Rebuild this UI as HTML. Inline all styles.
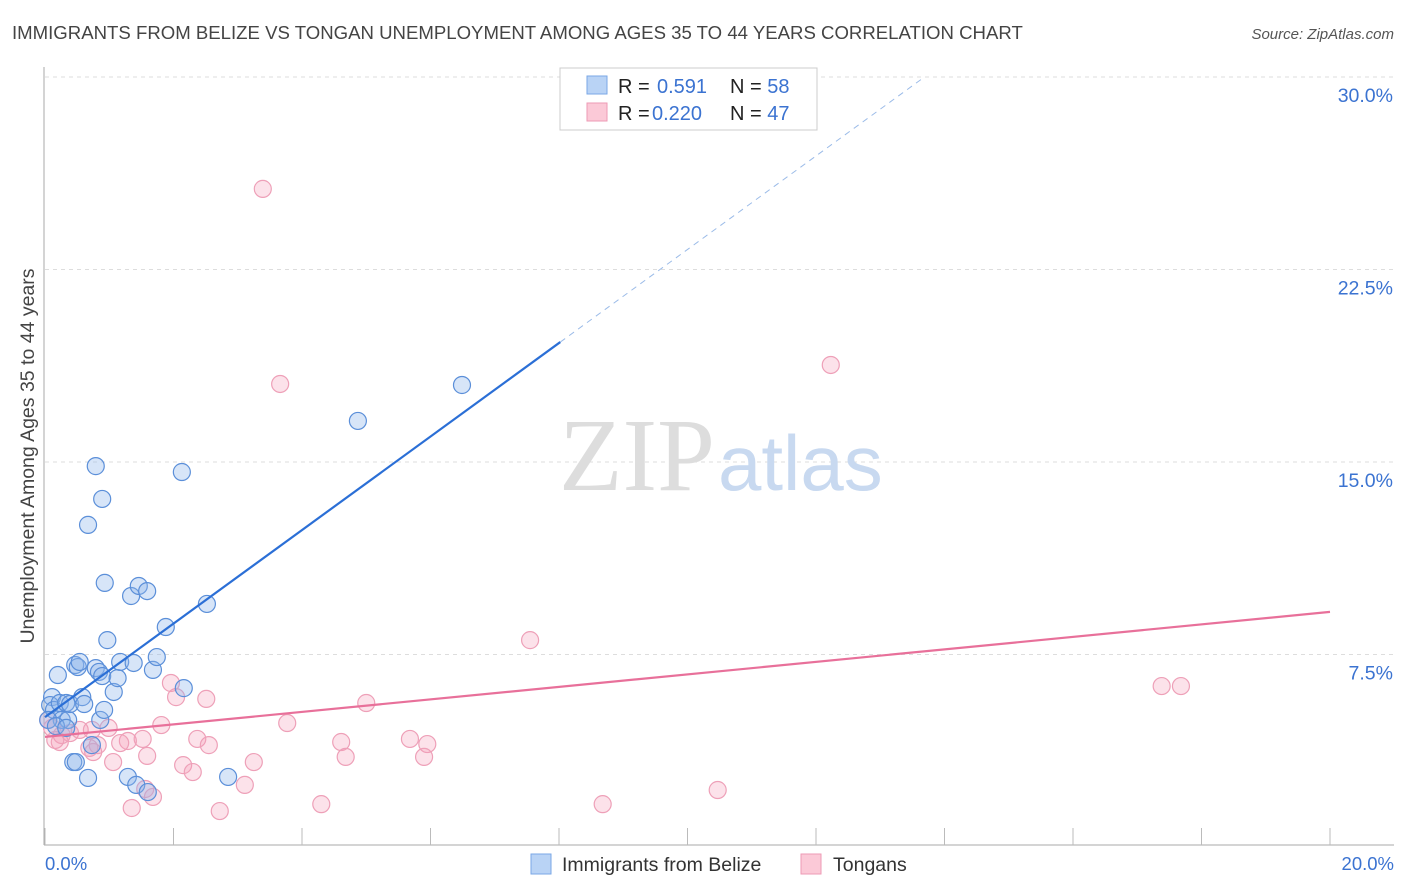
<!DOCTYPE html>
<html><head><meta charset="utf-8"><style>
body{margin:0;background:#fff;font-family:"Liberation Sans",sans-serif;}
svg{display:block}
</style></head><body>
<svg id="chart" width="1406" height="892">
<text x="12" y="39" font-size="18.6" fill="#444">IMMIGRANTS FROM BELIZE VS TONGAN UNEMPLOYMENT AMONG AGES 35 TO 44 YEARS CORRELATION CHART</text>
<text x="1394" y="39" font-size="15" fill="#555" font-style="italic" text-anchor="end">Source: ZipAtlas.com</text>
<g id="grid"></g>
<text x="715" y="490" font-size="104" fill="#ddd" font-family="Liberation Serif,serif" text-anchor="end">ZIP</text>
<text x="718" y="490" font-size="78" fill="#c8d9f0">atlas</text>
<line x1="44" y1="67" x2="44" y2="845" stroke="#aaa"/>
<line x1="44" y1="845" x2="1394" y2="845" stroke="#aaa"/>
<g id="ticks"></g>
<g id="pts"></g>
<g id="trends"></g>
<text x="34" y="456" font-size="19.5" fill="#444" text-anchor="middle" transform="rotate(-90 34 456)">Unemployment Among Ages 35 to 44 years</text>
<text x="45" y="870" font-size="18.5" fill="#3b73d1">0.0%</text>
<text x="1394" y="870" font-size="18.5" fill="#3b73d1" text-anchor="end">20.0%</text>
<g>
<rect x="560" y="68" width="257" height="62" fill="#fff" stroke="#ccc"/>
<rect x="587" y="76" width="20" height="18" fill="#b9d3f5" stroke="#7aa7e6"/>
<rect x="587" y="103" width="20" height="18" fill="#fbc9d7" stroke="#ee9ab4"/>
<text x="618" y="93" font-size="20" fill="#222">R = <tspan x="657" fill="#3b73d1">0.591</tspan><tspan x="730">N = </tspan><tspan fill="#3b73d1">58</tspan></text>
<text x="618" y="120" font-size="20" fill="#222">R = <tspan x="652" fill="#3b73d1">0.220</tspan><tspan x="730">N = </tspan><tspan fill="#3b73d1">47</tspan></text>
</g>
<g>
<rect x="531" y="854" width="20" height="20" fill="#b9d3f5" stroke="#7aa7e6"/>
<text x="562" y="871" font-size="19.5" fill="#333">Immigrants from Belize</text>
<rect x="801" y="854" width="20" height="20" fill="#fbc9d7" stroke="#ee9ab4"/>
<text x="833" y="871" font-size="19.5" fill="#333">Tongans</text>
</g>
</svg>
<script>
const yTicks=[7.5,15,22.5,30];
const yTickLabels=["7.5%","15.0%","22.5%","30.0%"];
const xTicks=[0,2,4,6,8,10,12,14,16,18,20];
const belizeX=[0.11,0.08,0.14,0.2,0.23,0.26,0.33,0.36,0.39,0.44,0.47,0.51,0.54,0.58,0.61,0.67,0.67,0.73,0.79,0.79,0.84,0.86,0.89,0.89,0.92,0.93,0.97,1.07,1.13,1.17,1.29,1.34,1.38,1.42,1.46,1.59,1.60,1.68,1.74,1.88,2.13,2.16,2.52,2.85,4.87,6.49,0.05,0.17,0.33,0.48];
const belizeY=[5.84,5.53,5.34,6.70,5.61,4.95,5.61,4.95,5.57,3.31,7.09,7.01,7.21,5.84,5.57,12.55,2.69,3.97,14.84,6.97,6.82,4.95,13.56,6.66,5.34,10.29,8.06,6.04,6.58,7.21,2.73,9.78,7.17,2.42,10.17,9.97,2.14,6.90,7.40,8.57,14.61,6.19,9.47,2.73,16.60,18.00,4.95,4.71,4.64,3.31];
const tonganX=[3.39,3.66,12.23,7.55,17.38,17.68,1.96,2.04,2.51,5.0,3.77,1.81,0.99,2.37,2.55,1.52,1.29,1.17,0.82,0.69,0.75,0.23,0.39,0.54,1.59,1.06,2.15,2.30,3.25,3.11,4.61,4.68,5.68,5.95,5.90,1.56,1.68,1.35,2.72,4.30,8.68,10.47,0.11,0.05,0.26,0.16,0.73];
const tonganY=[25.64,18.04,18.78,8.06,6.27,6.27,6.39,5.84,5.77,5.61,4.83,4.75,4.64,4.21,3.97,4.21,4.13,4.05,3.97,3.86,3.70,4.09,4.44,4.56,3.55,3.31,3.19,2.92,3.31,2.42,4.09,3.51,4.21,4.01,3.51,2.26,1.95,1.52,1.40,1.67,1.67,2.22,4.64,4.95,4.36,4.17,4.56];
const belizeTrend=[5.06,1.822];
const tonganTrend=[4.29,0.2435];
const NS="http://www.w3.org/2000/svg";
const sx=v=>45+v*64.25, sy=v=>847-v*25.667;
function mk(t,a,p){const e=document.createElementNS(NS,t);for(const k in a)e.setAttribute(k,a[k]);p.appendChild(e);return e;}
const grid=document.getElementById('grid');
yTicks.forEach((t,i)=>{
 const l=mk('line',{x1:45,x2:1394,y1:sy(t),y2:sy(t),stroke:'#ddd','stroke-dasharray':'4,4'},grid);
 
 
 const tx=mk('text',{x:1393,y:sy(t)+25,'font-size':19.5,fill:'#3b73d1','text-anchor':'end'},grid);
 tx.textContent=yTickLabels[i];
 
 
});
const tk=document.getElementById('ticks');
xTicks.forEach(t=>{const l=mk('line',{x1:sx(t),x2:sx(t),y1:828,y2:845,stroke:'#bbb'},tk);
 
 });
const pts=document.getElementById('pts');
tonganX.forEach((x,i)=>{const c=mk('circle',{cx:sx(x),cy:sy(tonganY[i]),r:8.5,fill:'rgba(244,160,186,0.3)',stroke:'#eea0b8','stroke-width':1.2},pts);
 
 });
belizeX.forEach((x,i)=>{const c=mk('circle',{cx:sx(x),cy:sy(belizeY[i]),r:8.5,fill:'rgba(140,180,235,0.35)',stroke:'#5b8fd9','stroke-width':1.2},pts);
 
 });
const tr=document.getElementById('trends');
const bEnd=8.02, bDash=(30-belizeTrend[0])/belizeTrend[1];
let l1=mk('line',{x1:sx(0),y1:sy(belizeTrend[0]),x2:sx(bEnd),y2:sy(belizeTrend[0]+belizeTrend[1]*bEnd),stroke:'#2b6fd6','stroke-width':2.2},tr);


let l2=mk('line',{x1:sx(bEnd),y1:sy(belizeTrend[0]+belizeTrend[1]*bEnd),x2:sx(bDash),y2:sy(30),stroke:'#9bbbe8','stroke-width':1,'stroke-dasharray':'6,5'},tr);


let l3=mk('line',{x1:sx(0),y1:sy(tonganTrend[0]),x2:sx(20),y2:sy(tonganTrend[0]+tonganTrend[1]*20),stroke:'#e8709a','stroke-width':2.2},tr);


</script>
</body></html>
